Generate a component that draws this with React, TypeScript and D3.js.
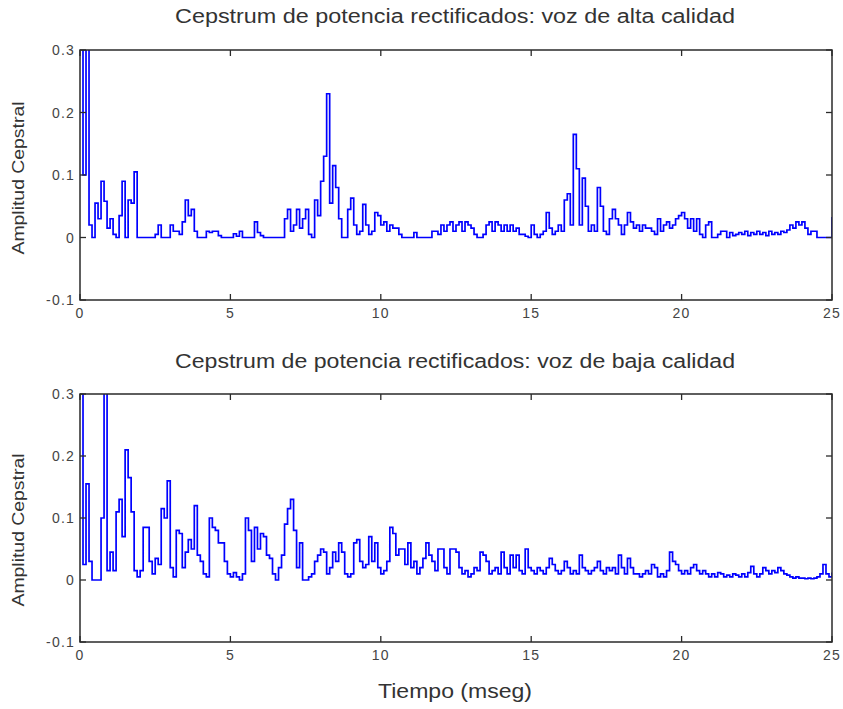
import React from "react";
import * as d3 from "d3";

// ---- data ----
const sampleStepMs = 0.1; // one value per 0.1 ms, last value at 25 ms
const xTicks = [0, 5, 10, 15, 20, 25];
const yTicks = [-0.1, 0, 0.1, 0.2, 0.3];
const xTickLabels = ["0", "5", "10", "15", "20", "25"];
const yTickLabels = ["-0.1", "0", "0.1", "0.2", "0.3"];
const titleAlta = "Cepstrum de potencia rectificados: voz de alta calidad";
const titleBaja = "Cepstrum de potencia rectificados: voz de baja calidad";
const xLabel = "Tiempo (mseg)";
const yLabel = "Amplitud Cepstral";

const altaValues = [
  0.45, 0.10, 0.45, 0.02, 0, 0.055, 0.03, 0.09, 0.058, 0.015,
  0.03, 0.005, 0, 0.035, 0.09, 0, 0.06, 0.055, 0.105, 0,
  0, 0, 0, 0, 0, 0.005, 0.02, 0, 0, 0,
  0.02, 0.01, 0.01, 0.005, 0.025, 0.06, 0.035, 0.045, 0.01, 0,
  0, 0, 0.01, 0.008, 0.01, 0.01, 0.003, 0, 0, 0,
  0, 0.006, 0.002, 0.01, 0, 0, 0, 0, 0.025, 0.008,
  0.003, 0, 0, 0, 0, 0, 0, 0, 0.03, 0.045,
  0.01, 0.02, 0.045, 0.015, 0.03, 0.045, 0.005, 0, 0.06, 0.035,
  0.09, 0.13, 0.23, 0.055, 0.115, 0.08, 0.03, 0, 0, 0.045,
  0.063, 0.02, 0.005, 0.01, 0.053, 0.02, 0.005, 0.01, 0.04, 0.035,
  0.02, 0.025, 0.01, 0.02, 0.015, 0.015, 0.005, 0, 0, 0,
  0, 0.008, 0, 0, 0, 0, 0, 0.01, 0.01, 0.005,
  0.02, 0.01, 0.02, 0.025, 0.01, 0.02, 0.025, 0.01, 0.025, 0.02,
  0.015, 0.005, 0, 0, 0.005, 0.02, 0.025, 0.01, 0.025, 0.02,
  0.01, 0.02, 0.01, 0.02, 0.01, 0.015, 0.005, 0.005, 0.002, 0,
  0.02, 0.005, 0, 0.005, 0.01, 0.04, 0.015, 0.005, 0.01, 0.02,
  0.01, 0.06, 0.07, 0.02, 0.165, 0.11, 0.02, 0.095, 0.05, 0.01,
  0.02, 0.01, 0.08, 0.05, 0.01, 0.005, 0.03, 0.045, 0.03, 0.02,
  0.005, 0.02, 0.04, 0.025, 0.015, 0.02, 0.01, 0.02, 0.015, 0.015,
  0.01, 0.005, 0.03, 0.01, 0.02, 0.025, 0.015, 0.02, 0.03, 0.035,
  0.04, 0.03, 0.015, 0.03, 0.01, 0.03, 0.005, 0, 0.02, 0.025,
  0, 0, 0.005, 0.01, 0.01, 0, 0.008, 0.003, 0.005, 0.008,
  0.005, 0.01, 0.003, 0.008, 0.005, 0.01, 0.005, 0.008, 0.003, 0.01,
  0.005, 0.008, 0.005, 0.01, 0.008, 0.012, 0.02, 0.015, 0.025, 0.02,
  0.025, 0.015, 0.005, 0.01, 0.01, 0, 0, 0, 0, 0,
  0.033,
];

const bajaValues = [
  0.45, 0.025, 0.155, 0.03, 0, 0, 0, 0.1, 0.45, 0.015,
  0.045, 0.015, 0.11, 0.13, 0.07, 0.21, 0.165, 0.11, 0.015, 0.005,
  0.015, 0.085, 0.085, 0.03, 0.01, 0.035, 0.025, 0.115, 0.1, 0.16,
  0.02, 0.005, 0.08, 0.075, 0.02, 0.045, 0.065, 0.05, 0.12, 0.04,
  0.03, 0.01, 0.005, 0.1, 0.085, 0.08, 0.06, 0.06, 0.03, 0.01,
  0.005, 0.012, 0.005, 0, 0.01, 0.1, 0.08, 0.03, 0.085, 0.05,
  0.075, 0.07, 0.04, 0.035, 0.01, 0, 0.02, 0.04, 0.09, 0.115,
  0.13, 0.08, 0.02, 0.06, 0, 0, 0.005, 0.01, 0.03, 0.04,
  0.05, 0.045, 0.01, 0.02, 0.045, 0.03, 0.06, 0.045, 0.01, 0.005,
  0.01, 0.06, 0.065, 0.03, 0.02, 0.025, 0.07, 0.03, 0.06, 0.02,
  0.01, 0.015, 0.03, 0.085, 0.075, 0.04, 0.05, 0.05, 0.025, 0.06,
  0.02, 0.03, 0.01, 0.02, 0.035, 0.06, 0.04, 0.03, 0.015, 0.05,
  0.05, 0.02, 0.01, 0.05, 0.05, 0.045, 0.02, 0.01, 0.015, 0.005,
  0.01, 0.02, 0.015, 0.045, 0.04, 0.03, 0.01, 0.015, 0.02, 0.01,
  0.045, 0.02, 0.01, 0.04, 0.02, 0.04, 0.015, 0.01, 0.05, 0.02,
  0.015, 0.01, 0.02, 0.015, 0.01, 0.02, 0.035, 0.025, 0.015, 0.01,
  0.015, 0.03, 0.02, 0.01, 0.015, 0.01, 0.04, 0.02, 0.015, 0.01,
  0.015, 0.02, 0.03, 0.015, 0.01, 0.02, 0.015, 0.02, 0.01, 0.04,
  0.02, 0.01, 0.035, 0.02, 0.01, 0.01, 0.005, 0.01, 0.015, 0.01,
  0.025, 0.02, 0.005, 0.01, 0.005, 0.015, 0.045, 0.03, 0.025, 0.015,
  0.01, 0.015, 0.01, 0.02, 0.025, 0.015, 0.01, 0.015, 0.01, 0.005,
  0.01, 0.005, 0.012, 0.01, 0.005, 0.008, 0.005, 0.01, 0.008, 0.005,
  0.01, 0.005, 0.012, 0.022, 0.01, 0.005, 0.01, 0.02, 0.015, 0.01,
  0.015, 0.012, 0.02, 0.015, 0.01, 0.008, 0.005, 0.003, 0.005, 0.003,
  0.003, 0.002, 0.003, 0.002, 0.003, 0.005, 0.01, 0.025, 0.01, 0.005,
  0.012,
];

// ---- layout ----
const W = 843;
const H = 709;
const plotLeft = 80;
const plotRight = 832;
const FONT = "'Liberation Sans', Arial, Helvetica, sans-serif";
const LINE_BLUE = "#0000ff";
const AXIS = "#2a2a2a";
const TEXT = "#333";

type PanelProps = {
  id: string;
  values: number[];
  title: string;
  top: number;
  bottom: number;
  titleBaseline: number;
  yLabelCenter: number;
};

function Panel({ id, values, title, top, bottom, titleBaseline, yLabelCenter }: PanelProps) {
  const x = d3.scaleLinear().domain([0, 25]).range([plotLeft, plotRight]);
  const y = d3.scaleLinear().domain([-0.1, 0.3]).range([bottom, top]);
  const pts: [number, number][] = values.map((v, i) => [i * sampleStepMs, v]);
  const line = d3
    .line<[number, number]>()
    .x((d) => x(d[0]))
    .y((d) => y(d[1]))
    .curve(d3.curveStepAfter);
  const tickLen = 6;
  return (
    <g>
      <defs>
        <clipPath id={id}>
          <rect x={plotLeft} y={top} width={plotRight - plotLeft} height={bottom - top} />
        </clipPath>
      </defs>
      <text
        x={(plotLeft + plotRight) / 2 - 1}
        y={titleBaseline}
        textAnchor="middle"
        fontFamily={FONT}
        fontSize={20}
        fill={TEXT}
        textLength={560}
        lengthAdjust="spacingAndGlyphs"
      >
        {title}
      </text>
      <rect x={plotLeft} y={top} width={plotRight - plotLeft} height={bottom - top} fill="#fff" />
      <path d={line(pts) || ""} fill="none" stroke={LINE_BLUE} strokeWidth={1.7} clipPath={`url(#${id})`} />
      <rect
        x={plotLeft}
        y={top}
        width={plotRight - plotLeft}
        height={bottom - top}
        fill="none"
        stroke={AXIS}
        strokeWidth={1.5}
      />
      {xTicks.map((t, i) => (
        <g key={"xt" + i}>
          <line x1={x(t)} x2={x(t)} y1={bottom} y2={bottom - tickLen} stroke={AXIS} strokeWidth={1.3} />
          <line x1={x(t)} x2={x(t)} y1={top} y2={top + tickLen} stroke={AXIS} strokeWidth={1.3} />
          <text
            x={x(t)}
            y={bottom + 13}
            textAnchor="middle"
            dominantBaseline="central"
            fontFamily={FONT}
            fontSize={14}
            fill="#444"
            letterSpacing={1.2}
          >
            {xTickLabels[i]}
          </text>
        </g>
      ))}
      {yTicks.map((t, i) => (
        <g key={"yt" + i}>
          <line x1={plotLeft} x2={plotLeft + tickLen} y1={y(t)} y2={y(t)} stroke={AXIS} strokeWidth={1.3} />
          <line x1={plotRight} x2={plotRight - tickLen} y1={y(t)} y2={y(t)} stroke={AXIS} strokeWidth={1.3} />
          <text
            x={plotLeft - 5}
            y={y(t)}
            textAnchor="end"
            dominantBaseline="central"
            fontFamily={FONT}
            fontSize={14}
            fill="#444"
            letterSpacing={1.2}
          >
            {yTickLabels[i]}
          </text>
        </g>
      ))}
      <text
        transform={`translate(24,${yLabelCenter}) rotate(-90)`}
        textAnchor="middle"
        fontFamily={FONT}
        fontSize={16}
        fill={TEXT}
        textLength={153}
        lengthAdjust="spacingAndGlyphs"
      >
        {yLabel}
      </text>
    </g>
  );
}

export default function App() {
  return (
    <svg
      width={W}
      height={H}
      viewBox={`0 0 ${W} ${H}`}
      style={{ position: "absolute", left: 0, top: 0, background: "#fff" }}
    >
      <rect x={0} y={0} width={W} height={H} fill="#fff" />
      <Panel
        id="clipAlta"
        values={altaValues}
        title={titleAlta}
        top={50}
        bottom={300}
        titleBaseline={23}
        yLabelCenter={178}
      />
      <Panel
        id="clipBaja"
        values={bajaValues}
        title={titleBaja}
        top={394}
        bottom={642}
        titleBaseline={368}
        yLabelCenter={530}
      />
      <text
        x={455}
        y={698}
        textAnchor="middle"
        fontFamily={FONT}
        fontSize={20}
        fill={TEXT}
        textLength={154}
        lengthAdjust="spacingAndGlyphs"
      >
        {xLabel}
      </text>
    </svg>
  );
}
